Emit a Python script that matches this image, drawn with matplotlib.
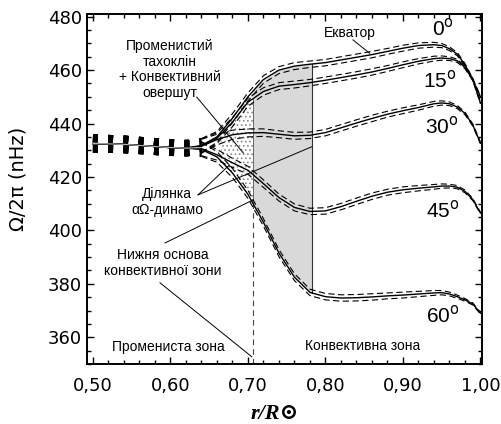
import matplotlib
matplotlib.use("Agg")
import matplotlib.pyplot as plt
import matplotlib.ticker as mticker
import numpy as np

plt.rcParams['lines.scale_dashes'] = False
plt.rcParams['hatch.linewidth'] = 0.7
plt.rcParams['hatch.color'] = '#777777'

# radius grid (r/R_sun) and rotation rate (nHz) per latitude
r = np.array([0.50, 0.52, 0.54, 0.56, 0.58, 0.60, 0.62, 0.64, 0.66, 0.68,
              0.70, 0.72, 0.74, 0.76, 0.78, 0.80, 0.82, 0.84, 0.86, 0.88,
              0.90, 0.92, 0.94, 0.95, 0.96, 0.97, 0.98, 0.99, 1.00])
core = [432.5, 432.4, 432.2, 431.8, 431.4, 431.0, 430.8]
om_0 = core + [431.8, 435.0, 442.0, 450.0, 456.5, 460.0, 461.5, 462.2, 462.8, 463.8,
               464.8, 465.8, 467.0, 468.2, 469.2, 469.5, 469.2, 468.0, 466.0, 462.0,
               456.5, 450.0]
om_15 = core + [431.6, 434.5, 440.5, 448.0, 452.0, 454.0, 454.6, 455.3, 456.2, 457.2,
                458.2, 459.3, 460.6, 462.0, 463.3, 464.3, 464.5, 464.3, 463.5, 461.0,
                456.5, 447.7]
om_30 = core + [431.5, 434.0, 435.8, 436.5, 436.6, 436.0, 435.4, 435.6, 436.6, 438.4,
                440.2, 441.9, 443.5, 444.8, 446.0, 447.4, 447.7, 447.4, 446.2, 443.8,
                439.5, 432.7]
om_45 = core + [430.6, 428.3, 425.3, 422.5, 417.5, 412.3, 408.6, 407.1, 407.3, 408.9,
                410.9, 412.8, 414.3, 415.2, 415.8, 416.3, 416.6, 416.6, 416.2, 414.6,
                411.6, 406.5]
om_60 = core + [430.3, 427.5, 421.5, 413.5, 403.0, 391.5, 382.5, 376.8, 375.2, 374.7,
                374.8, 375.1, 375.5, 375.8, 376.2, 376.6, 376.7, 376.2, 375.2, 374.0,
                372.5, 369.0]
err = np.array([3.6, 3.5, 3.4, 3.3, 3.2, 3.1, 3.0, 2.6, 2.0, 1.7, 1.5, 1.4, 1.3, 1.3,
                1.2, 1.2, 1.2, 1.2, 1.2, 1.1, 1.1, 1.0, 0.9, 0.8, 0.7, 0.6, 0.5, 0.4, 0.3])
curves = [om_0, om_15, om_30, om_45, om_60]
lat_labels = ['0$^{\\rm o}$', '15$^{\\rm o}$', '30$^{\\rm o}$', '45$^{\\rm o}$', '60$^{\\rm o}$']
lat_pos = [(0.952, 475.6), (0.948, 456.3), (0.950, 438.8), (0.952, 407.6), (0.952, 368.3)]

r_bcz = 0.707   # base of convection zone
r_top = 0.783   # outer edge of shaded zone
r_dot = 0.665   # start of dotted overshoot zone

fig = plt.figure(figsize=(5.02, 4.24), dpi=100)
ax = fig.add_axes([0.1743, 0.1415, 0.7859, 0.8255])

# shaded zones between the 60 and 0 degree curves
rr = np.linspace(r_bcz, r_top, 60)
ax.fill_between(rr, np.interp(rr, r, om_60), np.interp(rr, r, om_0),
                color='#d9d9d9', lw=0, zorder=1)
rd = np.linspace(r_dot, r_bcz, 30)
ax.fill_between(rd, np.interp(rd, r, om_60), np.interp(rd, r, om_0),
                facecolor='none', edgecolor='#8a8a8a', hatch='....', lw=0, zorder=1)
ax.plot([r_top, r_top], [np.interp(r_top, r, om_60), np.interp(r_top, r, om_0)],
        color='#333333', lw=0.8, zorder=2)
ax.plot([r_bcz, r_bcz], [np.interp(r_bcz, r, om_60), np.interp(r_bcz, r, om_15)],
        color='#666666', lw=0.7, zorder=2)
ax.plot([r_bcz, r_bcz], [350, np.interp(r_bcz, r, om_60)],
        color='#444444', lw=0.8, dashes=(4, 3), zorder=2)

# curves with error bands
inner = r <= 0.64
outer = r >= 0.64
for om in curves:
    om = np.array(om)
    for s in (1, -1):
        ax.plot(r[inner], om[inner] + s * 0.55 * err[inner], color='black',
                lw=5.5, dashes=(3.5, 7.5), dash_capstyle='butt', zorder=3)
        ax.plot(r[outer], (om + s * err)[outer],
                color='black', lw=0.8, dashes=(4.5, 2.5), zorder=3)
    ax.plot(r, om, color='black', lw=1.0, zorder=4)
ax.plot(r[inner], np.array(core + [431.0]), color='#bbbbbb', lw=0.8, zorder=4)

for lab, (x, y) in zip(lat_labels, lat_pos):
    ax.text(x, y, lab, fontsize=15, family='Liberation Sans',
            ha='center', va='center', zorder=5)

# annotations
tfont = dict(fontsize=10, family='Liberation Sans', ha='center', va='center',
             linespacing=1.15, zorder=5)
lk = dict(color='black', lw=0.7, zorder=5)
ax.text(0.5995, 460.2, 'Променистий\nтахоклін\n+ Конвективний\nовершут', **tfont)
ax.plot([0.634, 0.694], [449.9, 429.0], **lk)
ax.text(0.832, 473.8, 'Екватор', **tfont)
ax.plot([0.8355, 0.857], [471.3, 466.3], **lk)
ax.text(0.5956, 410.6, 'Ділянка\nαΩ-динамо', **tfont)
ax.plot([0.6356, 0.676], [413.3, 424.5], **lk)
ax.plot([0.6356, 0.7823], [413.3, 431.3], **lk)
ax.text(0.5905, 387.8, 'Нижня основа\nконвективної зони', **tfont)
ax.plot([0.593, 0.7065], [395.3, 411.4], **lk)
ax.plot([0.5865, 0.705], [380.4, 352.7], **lk)
ax.text(0.5969, 356.5, 'Промениста зона', **tfont)
ax.text(0.8485, 356.7, 'Конвективна зона', **tfont)

ax.set_xlim(0.493, 1.002)
ax.set_ylim(350, 481)
ax.xaxis.set_major_locator(mticker.MultipleLocator(0.1))
ax.xaxis.set_minor_locator(mticker.MultipleLocator(0.02))
ax.yaxis.set_major_locator(mticker.MultipleLocator(20))
ax.yaxis.set_minor_locator(mticker.MultipleLocator(5))
ax.xaxis.set_major_formatter(mticker.FuncFormatter(lambda v, p: f"{v:.2f}".replace('.', ',')))
ax.tick_params(which='both', direction='in', top=True, right=True, width=1.0)
ax.tick_params(which='major', length=5)
ax.tick_params(which='minor', length=3)
ax.tick_params(axis='x', pad=9, labelsize=13)
ax.tick_params(axis='y', pad=4, labelsize=13)
for sp in ax.spines.values():
    sp.set_linewidth(1.4)

ax.set_ylabel('Ω/2π (nHz)', fontsize=14)
ax.yaxis.set_label_coords(-0.151, 0.53)
fig.text(0.548, 0.023, 'r/R⊙', fontsize=16, weight='bold', style='italic',
         family=['Liberation Serif', 'DejaVu Serif'], ha='center', va='center')

plt.savefig('out.png', dpi=100)
